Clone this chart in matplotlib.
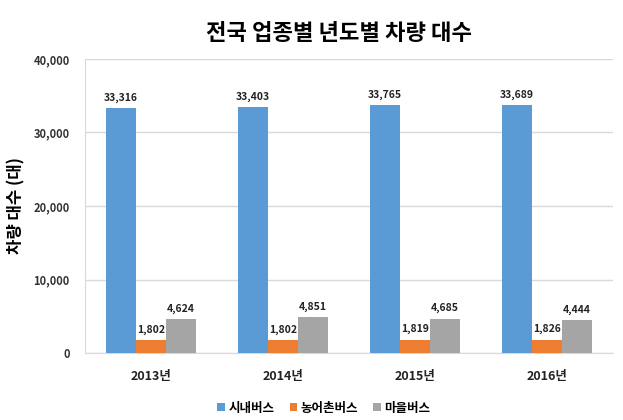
import matplotlib
matplotlib.use("Agg")
import matplotlib.pyplot as plt
import numpy as np

plt.rcParams['font.family'] = ['Noto Sans CJK KR', 'DejaVu Sans']

categories = ['2013년', '2014년', '2015년', '2016년']
series_names = ['시내버스', '농어촌버스', '마을버스']
city_bus = [33316, 33403, 33765, 33689]
rural_bus = [1802, 1802, 1819, 1826]
village_bus = [4624, 4851, 4685, 4444]
colors = ['#5B9BD5', '#ED7D31', '#A5A5A5']
yticks = [0, 10000, 20000, 30000, 40000]

fig = plt.figure(figsize=(6.23, 4.2), dpi=100)
ax = fig.add_axes([85/623, 1-353/420, 528/623, 294/420])

x = np.arange(len(categories))
w = 0.227
for i, (vals, name, c) in enumerate(zip([city_bus, rural_bus, village_bus], series_names, colors)):
    pos = x + (i - 1) * w
    ax.bar(pos, vals, width=w, color=c, label=name, zorder=3)
    for p, v in zip(pos, vals):
        ax.text(p, v + 700, f'{v:,}', ha='center', va='bottom', fontsize=7.5,
                fontweight='bold', color='#222222', zorder=4)

ax.set_xlim(-0.5, len(categories) - 0.5)
ax.set_ylim(0, 40000)
ax.set_yticks(yticks)
ax.set_yticklabels([f'{t:,}' for t in yticks], fontsize=8, fontweight='bold', color='#333333')
ax.set_xticks(x)
ax.set_xticklabels(categories, fontsize=9, fontweight='bold', color='#222222')
ax.tick_params(axis='x', length=0, pad=12)
ax.tick_params(axis='y', length=0, pad=11)
ax.yaxis.grid(True, color='#D9D9D9', linewidth=1, zorder=0)
for s in ['top', 'right']:
    ax.spines[s].set_visible(False)
ax.spines['left'].set_color('#D9D9D9')
ax.spines['bottom'].set_color('#D9D9D9')

ax.set_ylabel('차량 대수 (대)', fontsize=12, fontweight='bold', labelpad=6)
fig.text(0.544, 0.921, '전국 업종별 년도별 차량 대수', ha='center', va='center',
         fontsize=16, fontweight='bold')

fig.legend(loc='center', bbox_to_anchor=(0.52, 0.028), ncol=3, frameon=False,
           handlelength=0.6, handleheight=0.6, handletextpad=0.3,
           columnspacing=1.2, prop={'weight': 'bold', 'size': 9})

fig.savefig('out.png', dpi=100)
